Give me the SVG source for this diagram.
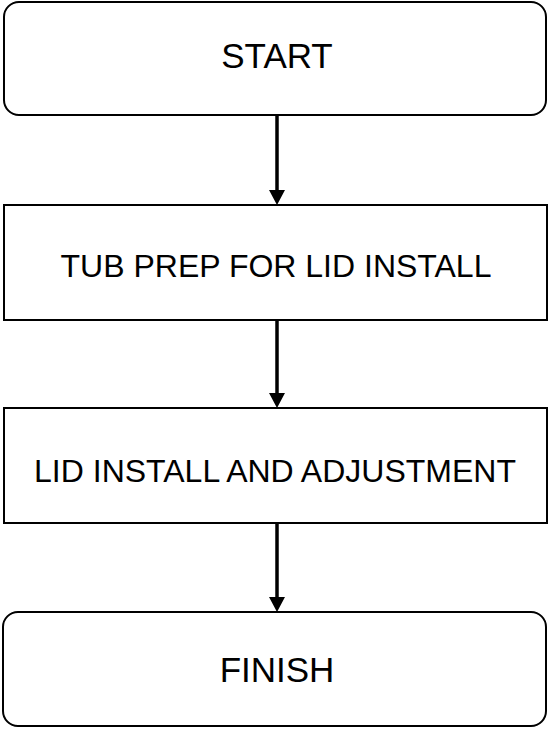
<svg xmlns="http://www.w3.org/2000/svg" width="548" height="729" viewBox="0 0 548 729">
<style>
.box{fill:#fff;stroke:#000;stroke-width:2}
.lbl{font-family:"Liberation Sans",Arial,sans-serif;fill:#000;text-anchor:middle}
.t{font-size:35px}
.p{font-size:32px}
.edge{stroke:#000;stroke-width:3.5;fill:none}
.head{fill:#000}
</style>
<rect width="548" height="729" fill="#fff"/>
<g id="connectors">
<line class="edge" x1="277" y1="115" x2="277" y2="191"/>
<polygon class="head" points="269,190 285,190 277,205"/>
<line class="edge" x1="277" y1="320" x2="277" y2="394"/>
<polygon class="head" points="269,393 285,393 277,408"/>
<line class="edge" x1="277" y1="523" x2="277" y2="598"/>
<polygon class="head" points="269,597 285,597 277,612"/>
</g>
<g id="start">
<rect class="box" x="4" y="2" width="542" height="113" rx="15"/>
<text class="lbl t" x="277" y="68">START</text>
</g>
<g id="tub-prep">
<rect class="box" x="4" y="205" width="543" height="115"/>
<text class="lbl p" x="276" y="277">TUB PREP FOR LID INSTALL</text>
</g>
<g id="lid-install">
<rect class="box" x="4" y="408" width="543" height="115"/>
<text class="lbl p" x="275" y="482">LID INSTALL AND ADJUSTMENT</text>
</g>
<g id="finish">
<rect class="box" x="3" y="612" width="543" height="114" rx="15"/>
<text class="lbl t" x="277" y="682">FINISH</text>
</g>
</svg>
